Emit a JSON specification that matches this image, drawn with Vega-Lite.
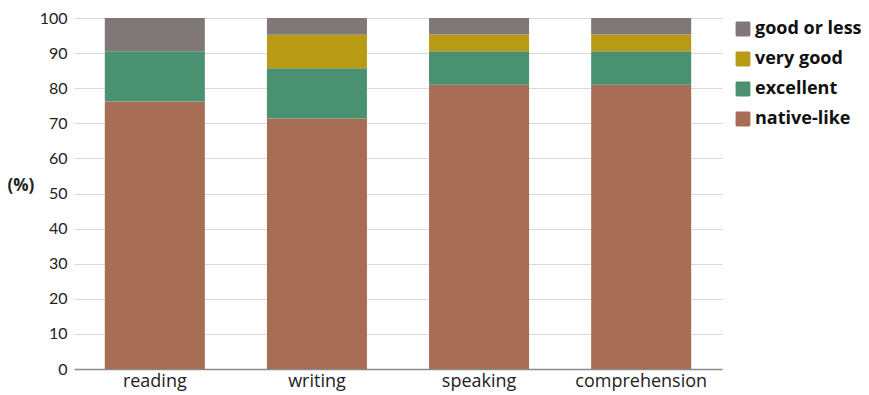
{
  "$schema": "https://vega.github.io/schema/vega-lite/v6.json",
  "autosize": "none",
  "width": 648,
  "height": 351,
  "padding": {"left": 74, "top": 18, "right": 147, "bottom": 26},
  "background": "white",
  "data": {
    "values": [
      {"skill": "reading", "level": "native-like", "rank": 1, "pct": 76.2},
      {"skill": "reading", "level": "excellent", "rank": 2, "pct": 14.3},
      {"skill": "reading", "level": "very good", "rank": 3, "pct": 0},
      {"skill": "reading", "level": "good or less", "rank": 4, "pct": 9.5},
      {"skill": "writing", "level": "native-like", "rank": 1, "pct": 71.4},
      {"skill": "writing", "level": "excellent", "rank": 2, "pct": 14.3},
      {"skill": "writing", "level": "very good", "rank": 3, "pct": 9.5},
      {"skill": "writing", "level": "good or less", "rank": 4, "pct": 4.8},
      {"skill": "speaking", "level": "native-like", "rank": 1, "pct": 81.0},
      {"skill": "speaking", "level": "excellent", "rank": 2, "pct": 9.5},
      {"skill": "speaking", "level": "very good", "rank": 3, "pct": 4.8},
      {"skill": "speaking", "level": "good or less", "rank": 4, "pct": 4.7},
      {"skill": "comprehension", "level": "native-like", "rank": 1, "pct": 81.0},
      {"skill": "comprehension", "level": "excellent", "rank": 2, "pct": 9.5},
      {"skill": "comprehension", "level": "very good", "rank": 3, "pct": 4.8},
      {"skill": "comprehension", "level": "good or less", "rank": 4, "pct": 4.7}
    ]
  },
  "config": {
    "view": {"stroke": null},
    "font": "Lato"
  },
  "mark": {"type": "bar"},
  "encoding": {
    "x": {
      "field": "skill",
      "type": "nominal",
      "sort": ["reading", "writing", "speaking", "comprehension"],
      "scale": {"paddingInner": 0.383, "paddingOuter": 0.19},
      "axis": {
        "title": null,
        "labelAngle": 0,
        "labelFont": "Open Sans",
        "labelFontSize": 18,
        "labelColor": "#222222",
        "labelPadding": 3,
        "ticks": false,
        "domainColor": "#8a8a8a",
        "domainWidth": 1.5
      }
    },
    "y": {
      "field": "pct",
      "type": "quantitative",
      "stack": "zero",
      "scale": {"domain": [0, 100], "nice": false},
      "axis": {
        "values": [0, 10, 20, 30, 40, 50, 60, 70, 80, 90, 100],
        "title": "(%)",
        "titleAngle": 0,
        "titleX": -67,
        "titleY": 176,
        "titleAlign": "left",
        "titleFont": "Open Sans",
        "titleFontSize": 17,
        "titleFontWeight": "bold",
        "titleColor": "#222222",
        "labelFont": "Lato",
        "labelFontSize": 16,
        "labelColor": "#222222",
        "labelPadding": 7,
        "ticks": false,
        "domain": false,
        "grid": true,
        "gridColor": "#d9d9d9",
        "gridWidth": 1.2
      }
    },
    "color": {
      "field": "level",
      "type": "nominal",
      "scale": {
        "domain": ["good or less", "very good", "excellent", "native-like"],
        "range": ["#807878", "#b89a14", "#4a9172", "#a86e55"]
      },
      "legend": {
        "title": null,
        "orient": "none",
        "legendX": 660,
        "legendY": 2,
        "symbolType": "M-0.8,-1H0.8A0.2,0.2 0 0 1 1,-0.8V0.8A0.2,0.2 0 0 1 0.8,1H-0.8A0.2,0.2 0 0 1 -1,0.8V-0.8A0.2,0.2 0 0 1 -0.8,-1Z",
        "symbolSize": 220,
        "symbolOpacity": 1,
        "symbolStrokeWidth": 0,
        "labelFont": "Open Sans",
        "labelFontSize": 18,
        "labelFontWeight": "bold",
        "labelColor": "#111111",
        "labelOffset": 3,
        "rowPadding": 12
      }
    },
    "order": {"field": "rank", "type": "quantitative"}
  }
}
